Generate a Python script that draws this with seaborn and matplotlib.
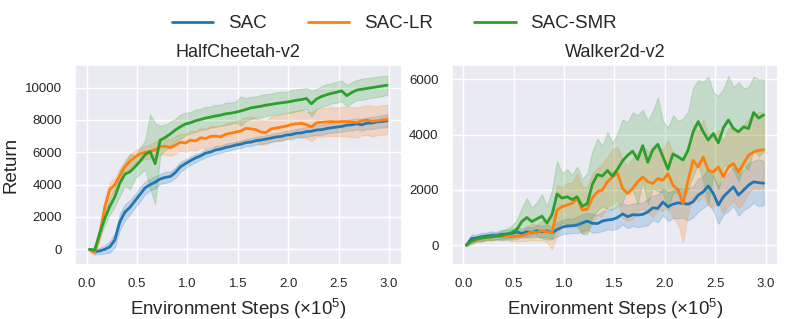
import numpy as np
import pandas as pd
import matplotlib
matplotlib.use("Agg")
import matplotlib.pyplot as plt
import seaborn as sns

# x grid (environment steps, x1e5)
steps = np.round(0.03 + 0.05 * np.arange(60), 2)

METHODS = ['SAC', 'SAC-LR', 'SAC-SMR']
COLORS = ['#1f77b4', '#ff7f0e', '#2ca02c']

# ---- HalfCheetah-v2 ----
hc_sac = [0, -150, -100, 0, 150, 580, 1700, 2300, 2600, 3000,
          3400, 3800, 4000, 4150, 4350, 4450, 4500, 4750, 5100, 5300,
          5480, 5650, 5780, 5950, 6020, 6150, 6200, 6300, 6360, 6450,
          6500, 6600, 6630, 6720, 6760, 6820, 6880, 6950, 6980, 7070,
          7090, 7180, 7200, 7280, 7300, 7380, 7400, 7470, 7520, 7560,
          7600, 7680, 7700, 7760, 7700, 7800, 7810, 7880, 7910, 7950]
hc_sac_hw = [80, 150, 200, 250, 350, 450, 500, 500, 450, 400,
             450, 400, 350, 380, 300, 350, 300, 320, 300, 280,
             250, 260, 240, 250, 230, 240, 220, 240, 230, 220,
             230, 220, 240, 230, 250, 240, 260, 250, 270, 260,
             280, 270, 290, 300, 280, 300, 310, 300, 320, 330,
             320, 340, 350, 340, 360, 350, 370, 360, 380, 400]

hc_lr = [-50, -150, 900, 2600, 3700, 4000, 4550, 5100, 5450, 5700,
         5900, 6000, 6050, 6150, 6350, 6380, 6280, 6450, 6620, 6580,
         6750, 6700, 6900, 6850, 6980, 7000, 6950, 7120, 7180, 7250,
         7320, 7480, 7450, 7400, 7250, 7220, 7450, 7500, 7560, 7620,
         7720, 7760, 7800, 7700, 7580, 7820, 7850, 7880, 7900, 7880,
         7900, 7900, 7880, 7850, 7950, 7990, 7920, 7950, 8000, 8030]
hc_lr_hw = [100, 200, 400, 500, 450, 400, 450, 400, 450, 400,
            420, 400, 450, 500, 480, 520, 500, 550, 520, 560,
            600, 580, 620, 600, 650, 620, 680, 650, 700, 680,
            720, 700, 740, 720, 760, 740, 780, 760, 800, 780,
            820, 800, 840, 820, 900, 850, 880, 860, 900, 880,
            920, 900, 940, 920, 900, 920, 940, 900, 920, 900]

hc_smr = [0, -50, 1000, 1900, 2650, 3250, 4100, 4650, 4800, 5100,
          5450, 5850, 6050, 5300, 6750, 6920, 7130, 7380, 7580, 7750,
          7830, 7950, 8030, 8120, 8180, 8250, 8300, 8380, 8420, 8480,
          8560, 8650, 8750, 8800, 8850, 8920, 8960, 9020, 9060, 9100,
          9150, 9220, 9260, 9330, 9000, 9300, 9450, 9560, 9650, 9720,
          9800, 9500, 9700, 9850, 9900, 9950, 10000, 10050, 10100, 10150]
hc_smr_hw = [80, 150, 300, 400, 500, 600, 800, 700, 1100, 700,
             800, 900, 2300, 2500, 900, 800, 750, 700, 750, 700,
             650, 700, 650, 700, 650, 680, 640, 700, 660, 650,
             900, 700, 680, 650, 700, 680, 660, 700, 680, 650,
             700, 680, 660, 650, 800, 620, 640, 660, 620, 650,
             640, 660, 640, 620, 650, 640, 620, 630, 620, 600]

# ---- Walker2d-v2 ----
wk_sac = [0, 240, 260, 300, 330, 350, 340, 390, 400, 420,
          480, 420, 480, 450, 520, 480, 520, 450, 560, 650,
          690, 700, 730, 800, 870, 790, 780, 870, 910, 930,
          1000, 1130, 1030, 1100, 1090, 1110, 1200, 1350, 1330, 1560,
          1390, 1480, 1530, 1510, 1480, 1570, 1810, 1930, 2140, 1870,
          1450, 1750, 1930, 2110, 1810, 1990, 2170, 2290, 2260, 2240]
wk_sac_hw = [30, 150, 120, 150, 130, 150, 140, 160, 150, 170,
             180, 160, 200, 180, 220, 200, 240, 220, 260, 250,
             280, 260, 300, 320, 300, 340, 320, 360, 340, 380,
             400, 380, 420, 400, 450, 420, 480, 450, 500, 480,
             520, 500, 550, 520, 580, 560, 600, 580, 650, 620,
             680, 650, 700, 680, 750, 720, 800, 760, 850, 800]

wk_lr = [0, 120, 200, 240, 270, 300, 330, 300, 330, 300,
         330, 330, 400, 480, 450, 520, 480, 450, 1270, 1390,
         1450, 1510, 1700, 1270, 1300, 1700, 1930, 2000, 2290, 2470,
         2600, 2050, 1870, 2050, 2290, 2470, 2290, 2230, 2410, 2350,
         2590, 2170, 2000, 1500, 2350, 3070, 2830, 3190, 2710, 2650,
         2830, 2470, 2830, 2950, 2650, 2950, 3250, 3370, 3430, 3450]
wk_lr_hw = [30, 100, 90, 120, 100, 130, 110, 150, 130, 170,
            200, 180, 250, 300, 280, 350, 380, 600, 900, 700,
            800, 750, 900, 850, 800, 900, 850, 950, 900, 1000,
            950, 1050, 1000, 1100, 1050, 1150, 1100, 1200, 1150, 1100,
            1200, 1150, 1250, 1400, 1200, 1300, 1250, 1350, 1300, 1250,
            1350, 1300, 1400, 1350, 1300, 1400, 1350, 1300, 1400, 1350]

wk_smr = [0, 150, 220, 260, 280, 300, 320, 350, 400, 450,
          560, 850, 1000, 850, 950, 1050, 800, 1100, 1850, 1700,
          1750, 1650, 1750, 1400, 1500, 2200, 2550, 2500, 2700, 2500,
          2750, 3050, 3250, 3400, 3100, 3600, 3000, 3450, 3650, 3200,
          2750, 3300, 3200, 3080, 3440, 4100, 4470, 4100, 3800, 4040,
          3700, 4250, 4530, 4220, 4100, 4280, 4220, 4800, 4600, 4710]
wk_smr_hw = [30, 100, 90, 120, 100, 130, 120, 160, 200, 250,
             350, 500, 700, 500, 600, 800, 600, 900, 1200, 900,
             1000, 900, 1100, 1000, 1100, 1200, 1300, 1100, 1400, 1200,
             1300, 1500, 1200, 1400, 1600, 1300, 1500, 1400, 1700, 1300,
             1500, 1400, 1300, 1500, 1400, 1600, 1500, 1800, 2300, 1500,
             1700, 1400, 1600, 1500, 1800, 1400, 1500, 1300, 1400, 1300]

PANELS = [
    ('HalfCheetah-v2', [hc_sac, hc_lr, hc_smr], [hc_sac_hw, hc_lr_hw, hc_smr_hw],
     (-970, 11400), [0, 2000, 4000, 6000, 8000, 10000]),
    ('Walker2d-v2', [wk_sac, wk_lr, wk_smr], [wk_sac_hw, wk_lr_hw, wk_smr_hw],
     (-720, 6520), [0, 2000, 4000, 6000]),
]

sns.set_theme(style='darkgrid')
plt.rcParams['font.family'] = ['Liberation Sans', 'DejaVu Sans']
plt.rcParams['mathtext.fontset'] = 'custom'
plt.rcParams['mathtext.rm'] = 'Liberation Sans'

fig = plt.figure(figsize=(7.89, 3.19), dpi=100)
ax_l = fig.add_axes([75 / 789, 1 - 265 / 319, 326.7 / 789, 200 / 319])
ax_r = fig.add_axes([451.7 / 789, 1 - 265 / 319, 326.6 / 789, 200 / 319])

for ax, (title, means, hws, ylim, yticks) in zip([ax_l, ax_r], PANELS):
    for name, color, mean, hw in zip(METHODS, COLORS, means, hws):
        mean = np.array(mean, dtype=float)
        hw = np.array(hw, dtype=float)
        df = pd.DataFrame({'step': steps, 'ret': mean})
        ax.fill_between(steps, mean - hw, mean + hw, color=color, alpha=0.2, linewidth=0.8)
        sns.lineplot(data=df, x='step', y='ret', color=color, linewidth=2, label=name, ax=ax)
    ax.set_xlim(-0.115, 3.125)
    ax.set_ylim(*ylim)
    ax.set_yticks(yticks)
    ax.set_xticks([0.0, 0.5, 1.0, 1.5, 2.0, 2.5, 3.0])
    ax.set_xticklabels(['0.0', '0.5', '1.0', '1.5', '2.0', '2.5', '3.0'])
    ax.tick_params(labelsize=9.5)
    ax.set_title(title, fontsize=13)
    ax.set_xlabel('Environment Steps (×10$^5$)', fontsize=13.5)
    ax.set_ylabel('')
    ax.get_legend().remove()

ax_l.set_ylabel('Return', fontsize=13.5)

handles, labels = ax_l.get_legend_handles_labels()
fig.legend(handles, labels, loc='center', bbox_to_anchor=(0.5, 0.925), ncol=3,
           frameon=False, fontsize=13.5, handlelength=2.2, handletextpad=0.8,
           columnspacing=2.2)

fig.savefig('out.png', dpi=100)
